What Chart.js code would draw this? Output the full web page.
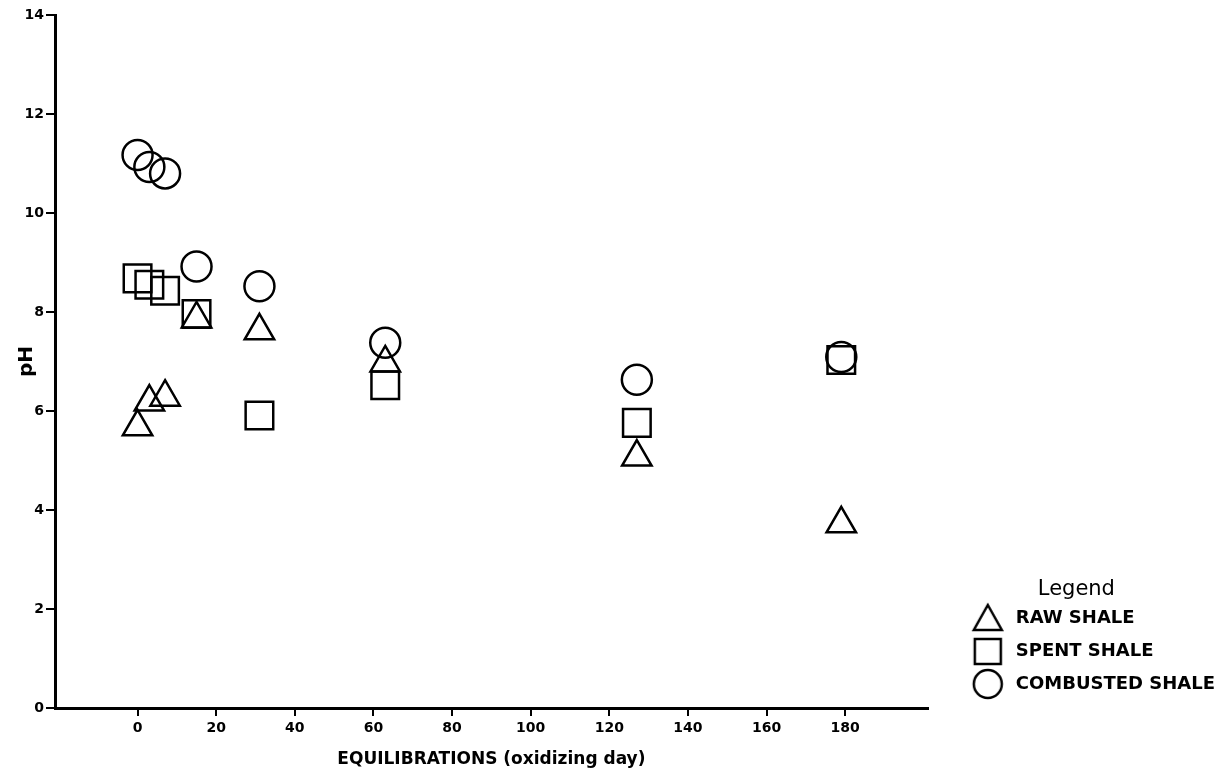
<!DOCTYPE html>
<html>
<head>
<meta charset="utf-8">
<title>pH vs equilibrations</title>
<script src="https://cdn.jsdelivr.net/npm/chart.js@4.4.0/dist/chart.umd.min.js"></script>
<style>
  html, body { margin: 0; padding: 0; background: #fff; }
  canvas { display: block; }
</style>
</head>
<body>
<canvas id="phChart" width="1225" height="778"></canvas>
<script>
/* Values */
const days = [0, 3, 7, 15, 31, 63, 127, 179];
const rawShale = [5.68, 6.18, 6.28, 7.86, 7.62, 6.97, 5.07, 3.72];
const spentShale = [8.68, 8.55, 8.43, 7.96, 5.91, 6.52, 5.76, 7.03];
const combustedShale = [11.17, 10.93, 10.80, 8.92, 8.52, 7.38, 6.63, 7.09];
const seriesNames = ['RAW SHALE', 'SPENT SHALE', 'COMBUSTED SHALE'];
const xTicks = [0, 20, 40, 60, 80, 100, 120, 140, 160, 180];
const yTicks = [0, 2, 4, 6, 8, 10, 12, 14];

const FONT = "'DejaVu Sans', 'Liberation Sans', sans-serif";

function toPoints(ys) {
    return days.map((d, i) => ({ x: d, y: ys[i] }));
}

/* Legend icons: drawn a bit right of the image centre so the text gap matches */
function makeIcon(shape) {
    const c = document.createElement('canvas');
    c.width = 60;
    c.height = 34;
    const g = c.getContext('2d');
    g.strokeStyle = '#000';
    g.lineWidth = 2.5;
    const cx = 43, cy = 17;
    g.beginPath();
    if (shape === 'triangle') {
        g.moveTo(cx, cy - 13);
        g.lineTo(cx + 14, cy + 12);
        g.lineTo(cx - 14, cy + 12);
        g.closePath();
    } else if (shape === 'rect') {
        g.rect(cx - 13, cy - 12, 26, 25);
    } else {
        g.arc(cx, cy, 14, 0, Math.PI * 2);
    }
    g.stroke();
    return c;
}
const legendIcons = [makeIcon('triangle'), makeIcon('rect'), makeIcon('circle')];

const common = {
    showLine: false,
    borderColor: '#000',
    backgroundColor: 'rgba(0,0,0,0)',
    borderWidth: 2.5
};

const data = {
    datasets: [
        Object.assign({ label: seriesNames[0], data: toPoints(rawShale), pointStyle: 'triangle', pointRadius: 17, pointHoverRadius: 17 }, common),
        Object.assign({ label: seriesNames[1], data: toPoints(spentShale), pointStyle: 'rect', pointRadius: 19.5, pointHoverRadius: 19.5 }, common),
        Object.assign({ label: seriesNames[2], data: toPoints(combustedShale), pointStyle: 'circle', pointRadius: 15, pointHoverRadius: 15 }, common)
    ]
};

new Chart(document.getElementById('phChart'), {
    type: 'scatter',
    data,
    options: {
        responsive: false,
        animation: false,
        layout: { autoPadding: false, padding: { top: 15, right: 0, bottom: 0, left: 0 } },
        scales: {
            x: {
                type: 'linear',
                min: -21,
                max: 201,
                afterBuildTicks: s => { s.ticks = xTicks.map(v => ({ value: v })); },
                afterFit: s => { s.height = 70; },
                grid: { display: true, drawOnChartArea: false, drawTicks: true, tickLength: 8, color: '#000', lineWidth: 2 },
                border: { display: true, color: '#000', width: 3 },
                ticks: { color: '#000', padding: 4, maxRotation: 0, font: { family: FONT, size: 14, weight: 'bold' } },
                title: {
                    display: true,
                    text: 'EQUILIBRATIONS (oxidizing day)',
                    color: '#000',
                    font: { family: FONT, size: 17, weight: 'bold', lineHeight: 1 },
                    padding: { top: 0, bottom: 10 }
                }
            },
            y: {
                type: 'linear',
                min: 0,
                max: 14,
                afterBuildTicks: s => { s.ticks = yTicks.map(v => ({ value: v })); },
                afterFit: s => { s.width = 55; },
                grid: { display: true, drawOnChartArea: false, drawTicks: true, tickLength: 9, color: '#000', lineWidth: 2 },
                border: { display: true, color: '#000', width: 3 },
                ticks: { color: '#000', padding: 2, font: { family: FONT, size: 14, weight: 'bold' } },
                title: {
                    display: true,
                    text: 'pH',
                    color: '#000',
                    font: { family: FONT, size: 20, weight: 'bold', lineHeight: 1 },
                    padding: { top: 17, bottom: 0 }
                }
            }
        },
        plugins: {
            tooltip: { enabled: false },
            legend: {
                display: true,
                position: 'right',
                align: 'end',
                fullSize: false,
                title: {
                    display: true,
                    text: 'Legend',
                    color: '#000',
                    position: 'center',
                    font: { family: FONT, size: 21, lineHeight: 0.7 },
                    padding: { top: 0, bottom: 0 }
                },
                labels: {
                    usePointStyle: true,
                    pointStyleWidth: 64,
                    padding: 15,
                    color: '#000',
                    font: { family: FONT, size: 18, weight: 'bold' },
                    generateLabels(chart) {
                        const items = Chart.defaults.plugins.legend.labels.generateLabels(chart);
                        items.forEach((it, i) => { it.pointStyle = legendIcons[i]; });
                        return items;
                    }
                }
            }
        }
    }
});
</script>
</body>
</html>
